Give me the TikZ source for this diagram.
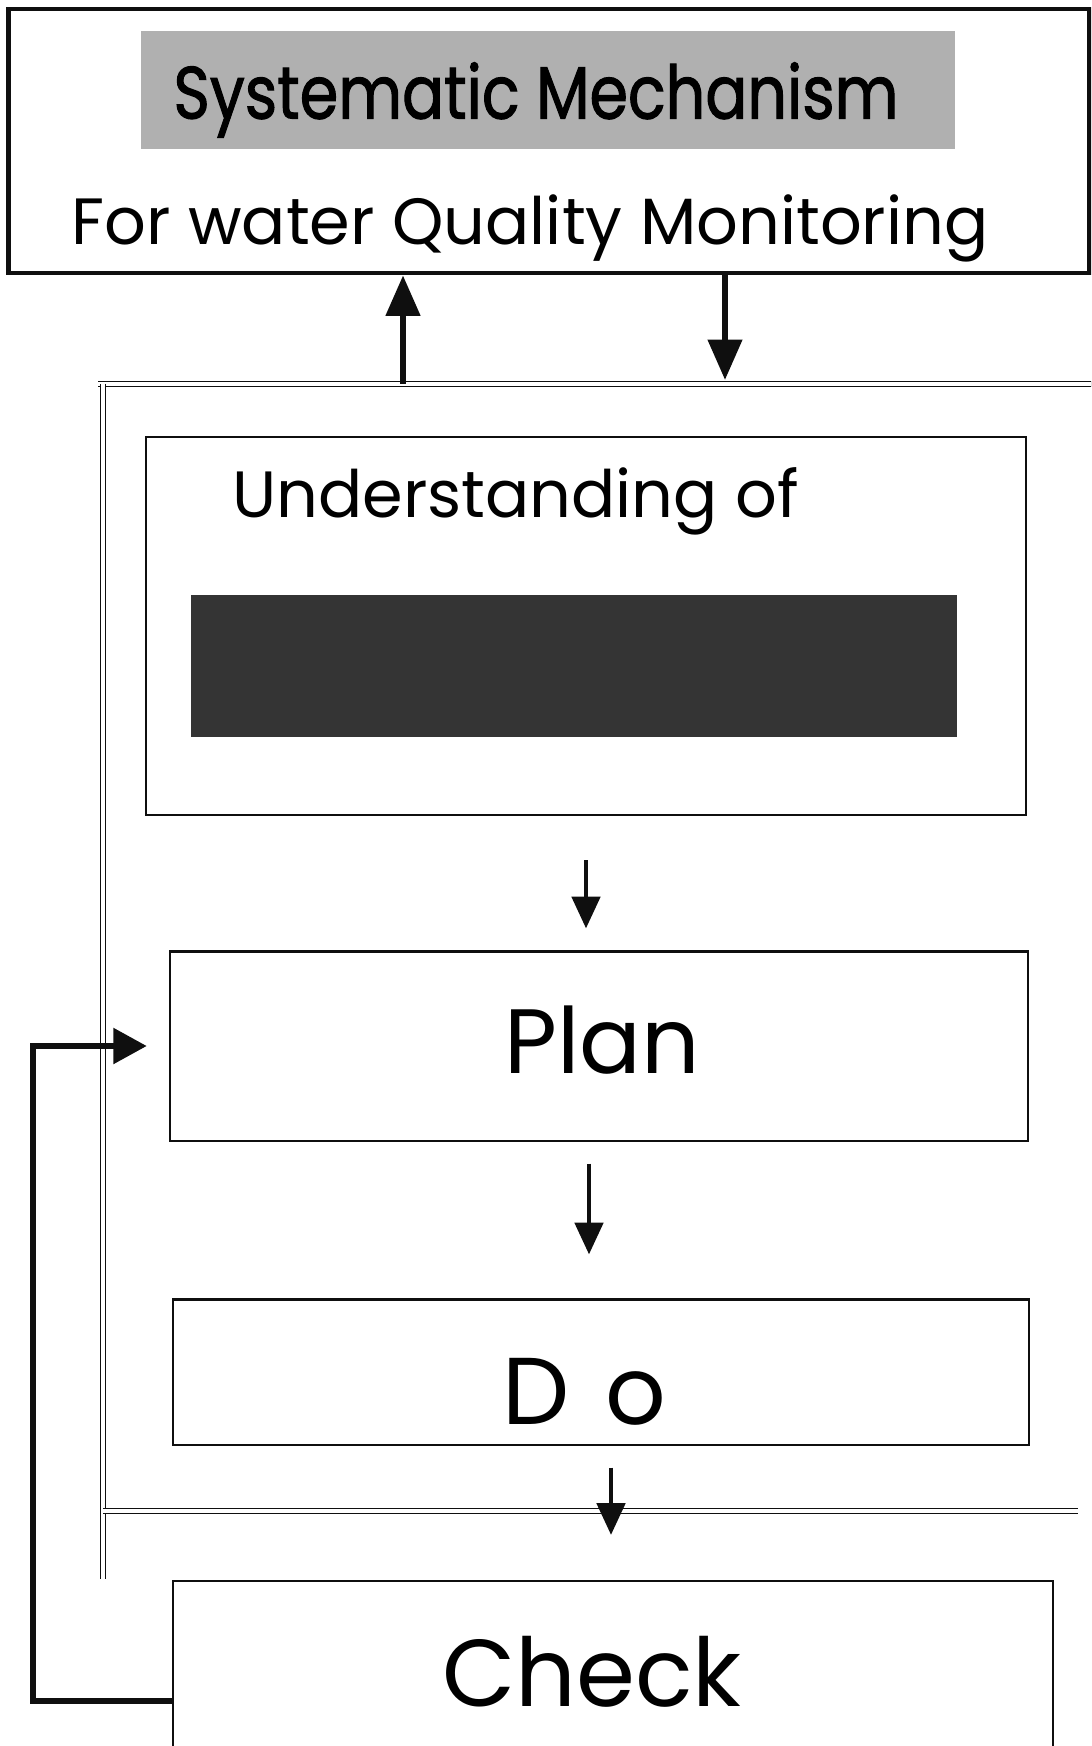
\documentclass[tikz,border=0pt]{standalone}
\usepackage{fontspec}
\setmainfont{Poppins}
\newfontfamily\titlefont{Poppins}[FakeBold=1.6]
\usetikzlibrary{arrows.meta}

\definecolor{linecol}{RGB}{15, 15, 15}
\definecolor{shadegray}{RGB}{176, 176, 176}
\definecolor{darkfill}{RGB}{52, 52, 52}

\begin{document}
\begin{tikzpicture}[x=0.01cm, y=-0.01cm,
    box/.style={draw=linecol, line width=0.6pt, fill=white, inner sep=0pt},
    frameline/.style={draw=linecol, double, double distance=0.9pt, line width=0.45pt},
    bigflow/.style={linecol, line width=1.8pt, -{Triangle[length=11.5pt, width=9.5pt]}},
    flow/.style={linecol, line width=1.2pt, -{Triangle[length=9pt, width=8pt]}}]
    \useasboundingbox (0,0) rectangle (1091,1746);
    \clip (0,0) rectangle (1091,1746);

    % Outer double frame (drawn first, boxes sit on top)
    \draw[frameline] (98, 384) -- (1100, 384);
    \draw[frameline] (103, 384) -- (103, 1579);
    \draw[frameline] (103, 1511) -- (1078, 1511);

    % Top box
    \node[box, line width=1.3pt, minimum width=10.8cm, minimum height=2.64cm] (mech) at (549, 141) {};
    \node[fill=shadegray, inner sep=0pt, minimum width=8.13cm, minimum height=1.17cm] (shade) at (548, 90) {};
    \node[font=\titlefont\fontsize{21}{23}\selectfont, xscale=0.84] (title) at (536, 100) {Systematic Mechanism};
    \node[font=\fontsize{18.6}{21}\selectfont] (sub) at (530, 228) {For water Quality Monitoring};

    % Inner boxes
    \node[box, minimum width=8.8cm, minimum height=3.78cm] (und) at (586, 626) {};
    \node[anchor=west, font=\fontsize{18.6}{21}\selectfont] (undtxt) at (220, 501) {Understanding of};
    \node[fill=darkfill, inner sep=0pt, minimum width=7.66cm, minimum height=1.41cm] (dark) at (574, 666) {};

    \node[box, minimum width=8.58cm, minimum height=1.89cm] (plan) at (599, 1046) {};
    \node[font=\fontsize{26}{28}\selectfont] (plantxt) at (602, 1040) {Plan};
    \node[box, minimum width=8.56cm, minimum height=1.45cm] (do) at (601, 1372) {};
    \node[font=\fontsize{27}{29}\selectfont] (dotxt) at (584, 1392) {D\hspace{3pt} o};
    \node[box, minimum width=8.79cm, minimum height=1.8cm] (check) at (613, 1671) {};
    \node[font=\fontsize{27}{29}\selectfont] (checktxt) at (592, 1672) {Check};

    % Links with the top box
    \draw[bigflow] (403, 384) -- (mech.south -| 403, 0);
    \draw[bigflow] (mech.south -| 725, 0) -- (725, 380);

    % Flow between the steps
    \draw[flow, shorten <=0.44cm, shorten >=0.22cm] (und.south) -- (und.south |- plan.north);
    \draw[flow, shorten <=0.22cm, shorten >=0.44cm] ([xshift=-0.1cm]plan.south) -- ([xshift=-0.1cm]plan.south |- do.north);
    \draw[flow, shorten <=0.22cm, shorten >=0.45cm] ([xshift=0.1cm]do.south) -- ([xshift=0.1cm]do.south |- check.north);

    % Feedback from Check back to Plan
    \coordinate (fb) at (33, 1701);
    \draw[linecol, line width=1.5pt, -{Triangle[length=9.5pt, width=10pt]}]
        (check.west |- fb) -- (fb) |- ([xshift=-0.22cm]plan.west);
\end{tikzpicture}
\end{document}
